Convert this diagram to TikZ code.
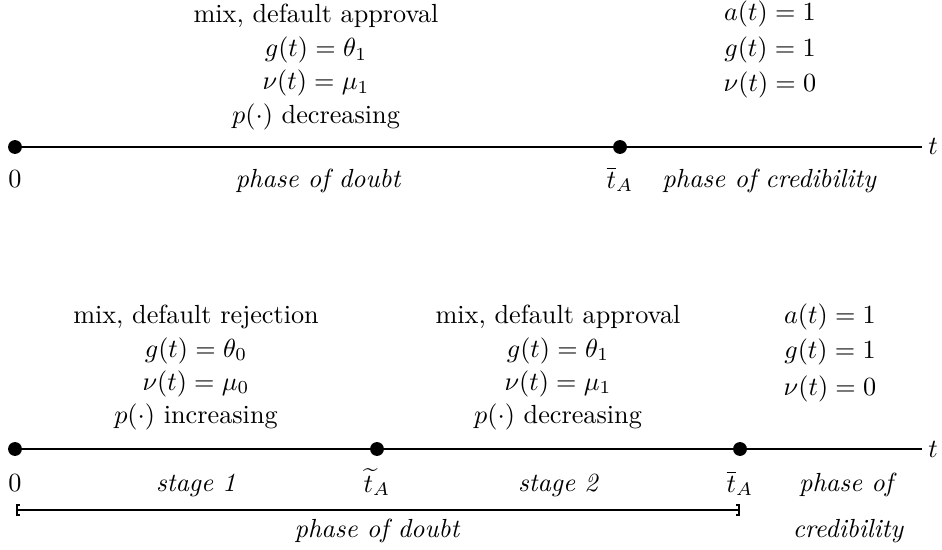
\documentclass[tikz,border=0pt]{standalone}
\usetikzlibrary{arrows.meta}
\begin{document}
\begin{tikzpicture}[x=0.3815pt,y=-0.3815pt,
  dotnode/.style={circle,fill=black,inner sep=0pt,minimum size=5.3pt},
  axisline/.style={line width=0.75pt},
  lbl/.style={anchor=base,inner sep=0pt},
  phaselbl/.style={lbl,font=\itshape},
  bracketline/.style={line width=0.6pt,{Bracket[width=4.6pt,length=1.2pt,line width=0.6pt]}-{Bracket[width=4.6pt,length=1.2pt,line width=0.6pt]}}]
\useasboundingbox (0,0) rectangle (942,550);

% ---------- top time line ----------
\node[dotnode] (a0) at (15,147) {};
\node[dotnode] (a1) at (620,147) {};
\coordinate (aend) at (922,147);
\draw[axisline] (a0) -- (a1);
\draw[axisline] (a1) -- (aend);
\node[lbl] (at) at (933,155) {$t$};

\node[lbl] (r1) at (316,23) {mix, default approval};
\node[lbl] (r2) at (316,57) {$g(t)=\theta_1$};
\node[lbl] (r3) at (316,90) {$\nu(t)=\mu_1$};
\node[lbl] (r4) at (316,124) {$p(\cdot)$ decreasing};

\node[lbl] (c1) at (770,21) {$a(t)=1$};
\node[lbl] (c2) at (770,57) {$g(t)=1$};
\node[lbl] (c3) at (770,92) {$\nu(t)=0$};

\node[lbl] (z0) at (15,187) {$0$};
\node[phaselbl] (pd) at (318,187) {phase of doubt};
\node[lbl] (tbar) at (620,188) {$\overline{t}_A$};
\node[phaselbl] (pc) at (769,187) {phase of credibility};

% ---------- bottom time line ----------
\node[dotnode] (b0) at (15,449) {};
\node[dotnode] (b1) at (377,449) {};
\node[dotnode] (b2) at (740,449) {};
\coordinate (bend) at (922,449);
\draw[axisline] (b0) -- (b1);
\draw[axisline] (b1) -- (b2);
\draw[axisline] (b2) -- (bend);
\node[lbl] (bt) at (933,457) {$t$};

\node[lbl] (s1) at (196,323) {mix, default rejection};
\node[lbl] (s2) at (196,357) {$g(t)=\theta_0$};
\node[lbl] (s3) at (196,390) {$\nu(t)=\mu_0$};
\node[lbl] (s4) at (196,423) {$p(\cdot)$ increasing};

\node[lbl] (m1) at (558,323) {mix, default approval};
\node[lbl] (m2) at (558,357) {$g(t)=\theta_1$};
\node[lbl] (m3) at (558,390) {$\nu(t)=\mu_1$};
\node[lbl] (m4) at (558,423) {$p(\cdot)$ decreasing};

\node[lbl] (e1) at (830,323) {$a(t)=1$};
\node[lbl] (e2) at (830,358) {$g(t)=1$};
\node[lbl] (e3) at (830,395) {$\nu(t)=0$};

\node[lbl] (bz) at (15,491) {$0$};
\node[phaselbl] (st1) at (196,491) {stage 1};
\node[lbl] (ttil) at (377,492) {$\widetilde{t}_A$};
\node[phaselbl] (st2) at (558,491) {stage 2};
\node[lbl] (tbar2) at (740,492) {$\overline{t}_A$};
\node[phaselbl] (po) at (846,491) {phase of};
\node[phaselbl] (cred) at (848,537) {credibility};

\coordinate (brl) at (16,510);
\coordinate (brr) at (740,510);
\draw[bracketline] (brl) -- (brr);
\node[phaselbl] (pd2) at (377,537) {phase of doubt};
\end{tikzpicture}
\end{document}
